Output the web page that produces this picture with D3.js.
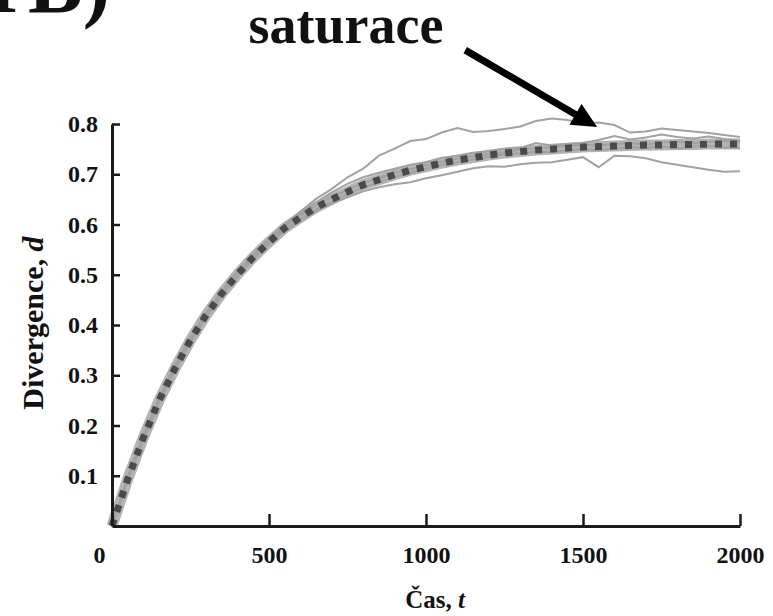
<!DOCTYPE html>
<html>
<head>
<meta charset="utf-8">
<script src="https://cdn.jsdelivr.net/npm/d3@7"></script>
<style>
	html, body { margin: 0; padding: 0; background: #fff; }
	svg { display: block; }
	text { font-family: 'Liberation Serif', 'Times New Roman', serif; font-weight: bold; fill: #111; }
</style>
</head>
<body>
<div id="chart"><svg></svg></div>
<script>
const T = [0, 50, 100, 150, 200, 250, 300, 350, 400, 450, 500, 550, 600, 650, 700, 750, 800, 850, 900, 950,
	1000, 1050, 1100, 1150, 1200, 1250, 1300, 1350, 1400, 1450, 1500, 1550, 1600, 1650, 1700, 1750, 1800, 1850, 1900, 1950, 2000];

// theoretical curve (thick grey + dark squares)
const theory = [0, 0.093, 0.176, 0.250, 0.313, 0.370, 0.420, 0.463, 0.501, 0.535, 0.565, 0.593, 0.614, 0.634, 0.650, 0.665, 0.679, 0.689, 0.699, 0.708,
	0.715, 0.722, 0.728, 0.733, 0.738, 0.742, 0.745, 0.748, 0.750, 0.752, 0.754, 0.755, 0.756, 0.757, 0.758, 0.758, 0.759, 0.759, 0.760, 0.760, 0.760];

// simulation runs
const runA = [0, 0.097, 0.181, 0.254, 0.319, 0.376, 0.424, 0.469, 0.507, 0.540, 0.573, 0.601, 0.626, 0.651, 0.671, 0.694, 0.711, 0.737, 0.751, 0.766,
	0.770, 0.783, 0.792, 0.784, 0.786, 0.790, 0.795, 0.806, 0.811, 0.808, 0.801, 0.803, 0.798, 0.783, 0.785, 0.791, 0.788, 0.785, 0.782, 0.778, 0.774];
const runB = [0, 0.095, 0.179, 0.253, 0.318, 0.374, 0.425, 0.467, 0.506, 0.541, 0.571, 0.598, 0.622, 0.644, 0.664, 0.681, 0.694, 0.703, 0.711, 0.719,
	0.724, 0.733, 0.737, 0.743, 0.746, 0.751, 0.752, 0.762, 0.757, 0.760, 0.762, 0.768, 0.776, 0.769, 0.773, 0.779, 0.774, 0.771, 0.775, 0.770, 0.767];
const runC = [0, 0.090, 0.172, 0.246, 0.309, 0.366, 0.416, 0.458, 0.497, 0.531, 0.561, 0.587, 0.608, 0.627, 0.642, 0.654, 0.666, 0.674, 0.680, 0.684,
	0.692, 0.698, 0.705, 0.712, 0.716, 0.715, 0.720, 0.723, 0.724, 0.729, 0.734, 0.714, 0.737, 0.736, 0.732, 0.724, 0.719, 0.714, 0.709, 0.705, 0.706];
const runD = [0, 0.092, 0.175, 0.249, 0.311, 0.369, 0.418, 0.461, 0.499, 0.533, 0.563, 0.590, 0.611, 0.630, 0.645, 0.661, 0.674, 0.684, 0.695, 0.703,
	0.711, 0.719, 0.724, 0.730, 0.735, 0.740, 0.742, 0.745, 0.744, 0.748, 0.750, 0.748, 0.751, 0.754, 0.752, 0.756, 0.751, 0.755, 0.757, 0.753, 0.752];
const runE = [0, 0.094, 0.178, 0.251, 0.315, 0.371, 0.421, 0.465, 0.503, 0.537, 0.567, 0.595, 0.617, 0.638, 0.655, 0.669, 0.682, 0.692, 0.703, 0.710,
	0.718, 0.725, 0.731, 0.736, 0.740, 0.744, 0.749, 0.752, 0.753, 0.756, 0.758, 0.757, 0.760, 0.762, 0.759, 0.763, 0.765, 0.762, 0.764, 0.766, 0.764];

const xTicks = [0, 500, 1000, 1500, 2000];
const yTicks = [0.1, 0.2, 0.3, 0.4, 0.5, 0.6, 0.7, 0.8];

// arrow annotation, in data units: tail -> tip
const arrowTail = [1125, 0.947];
const arrowTip = [1545, 0.794];

const width = 773;
const height = 616;

const $svg = d3.select('#chart svg').attr('width', width).attr('height', height);

const x = d3.scaleLinear().domain([0, 2000]).range([112, 740]);
const y = d3.scaleLinear().domain([0, 0.8]).range([526, 124]);

function drawAxes() {
	const $x = $svg.append('g')
		.attr('transform', `translate(0,${y(0)})`)
		.call(d3.axisBottom(x).tickValues(xTicks).tickSize(-12).tickSizeOuter(0).tickPadding(20).tickFormat(d3.format('d')));

	const $y = $svg.append('g')
		.attr('transform', `translate(${x(0)},0)`)
		.call(d3.axisLeft(y).tickValues(yTicks).tickSize(-8).tickSizeOuter(0).tickPadding(14).tickFormat(d3.format('.1f')));

	[$x, $y].forEach($a => {
		$a.attr('font-size', 24).attr('font-family', null);
		$a.select('.domain').attr('stroke', '#1a1a1a').attr('stroke-width', 3);
		$a.selectAll('.tick line').attr('stroke', '#1a1a1a').attr('stroke-width', 2.5);
		$a.selectAll('.tick text').attr('fill', '#111');
	});

	// the 0 label sits left of the origin
	$x.selectAll('.tick').filter(d => d === 0).select('text').attr('x', -13);
	$x.selectAll('.tick').filter(d => d === 0).select('line').remove();

	$svg.append('text')
		.attr('x', 435).attr('y', 608)
		.attr('text-anchor', 'middle')
		.attr('font-size', 25)
		.html('Čas, <tspan font-style="italic">t</tspan>');

	$svg.append('text')
		.attr('transform', 'translate(43,323) rotate(-90)')
		.attr('text-anchor', 'middle')
		.attr('font-size', 30)
		.html('Divergence, <tspan font-style="italic">d</tspan>');
}

function drawLines() {
	const line = d3.line().x((d, i) => x(T[i])).y(d => y(d));

	// thick grey band under the theory curve
	$svg.append('path')
		.datum(theory)
		.attr('d', line)
		.attr('fill', 'none')
		.attr('stroke', '#b4b4b4')
		.attr('stroke-width', 11)
		.attr('stroke-linejoin', 'round');

	$svg.append('g')
		.selectAll('path')
		.data([runD, runE, runB, runC, runA])
		.enter()
		.append('path')
		.attr('d', line)
		.attr('fill', 'none')
		.attr('stroke', '#a2a2a2')
		.attr('stroke-width', 2);

	// dark square dots
	$svg.append('path')
		.datum(theory)
		.attr('d', line)
		.attr('fill', 'none')
		.attr('stroke', '#4a4a4a')
		.attr('stroke-width', 7)
		.attr('stroke-dasharray', '7,8');
}

function drawNotes() {
	$svg.append('text')
		.attr('x', 346).attr('y', 43)
		.attr('text-anchor', 'middle')
		.attr('font-size', 54)
		.text('saturace');

	$svg.append('text')
		.attr('font-size', 82)
		.selectAll('tspan')
		.data([['I', -14], ['B)', 28]])
		.enter()
		.append('tspan')
		.attr('x', d => d[1])
		.attr('y', 12)
		.text(d => d[0]);

	const [x0, y0] = [x(arrowTail[0]), y(arrowTail[1])];
	const [x1, y1] = [x(arrowTip[0]), y(arrowTip[1])];
	const len = Math.hypot(x1 - x0, y1 - y0);
	const ux = (x1 - x0) / len;
	const uy = (y1 - y0) / len;
	const head = 25;
	const half = 12;
	const bx = x1 - ux * head;
	const by = y1 - uy * head;

	$svg.append('line')
		.attr('x1', x0).attr('y1', y0)
		.attr('x2', bx + ux * 2).attr('y2', by + uy * 2)
		.attr('stroke', '#000')
		.attr('stroke-width', 7);

	$svg.append('polygon')
		.attr('points', [[x1, y1], [bx - uy * half, by + ux * half], [bx + uy * half, by - ux * half]].map(p => p.join(',')).join(' '))
		.attr('fill', '#000');
}

function init() {
	$svg.append('rect').attr('width', width).attr('height', height).attr('fill', '#fff');
	drawLines();
	drawAxes();
	drawNotes();
}

init();
</script>
</body>
</html>
